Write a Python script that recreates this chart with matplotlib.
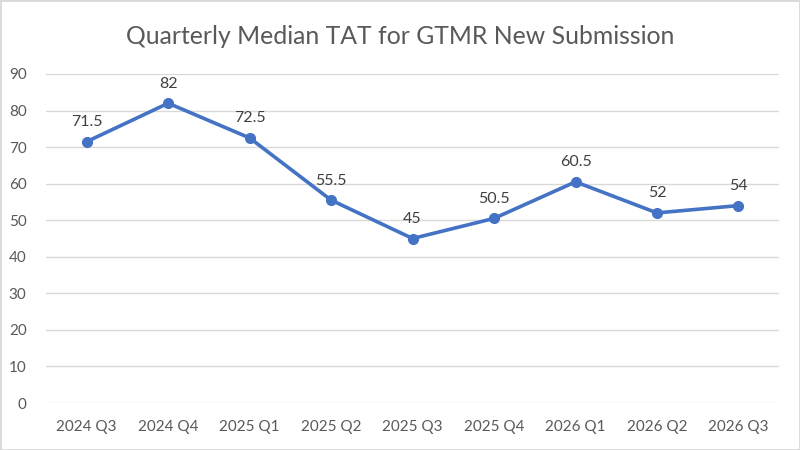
import matplotlib.pyplot as plt
from matplotlib.patches import Rectangle

quarters = ["2024 Q3", "2024 Q4", "2025 Q1", "2025 Q2", "2025 Q3",
            "2025 Q4", "2026 Q1", "2026 Q2", "2026 Q3"]
median_tat = [71.5, 82, 72.5, 55.5, 45, 50.5, 60.5, 52, 54]
labels = ["71.5", "82", "72.5", "55.5", "45", "50.5", "60.5", "52", "54"]
y_ticks = [0, 10, 20, 30, 40, 50, 60, 70, 80, 90]

blue = "#4472C4"
text_grey = "#595959"
grid_grey = "#D9D9D9"

plt.rcParams['font.family'] = ['Lato', 'DejaVu Sans']

fig = plt.figure(figsize=(8, 4.5), dpi=100)
ax = fig.add_axes([0.0575, 0.1044, 0.9165, 0.7312])

x = list(range(len(quarters)))
ax.plot(x, median_tat, color=blue, lw=2.6, marker='o', markersize=7,
        solid_capstyle='round', zorder=3)

for xi, yi, lab in zip(x, median_tat, labels):
    ax.annotate(lab, (xi, yi), xytext=(0, 9), textcoords='offset points',
                ha='center', va='bottom', fontsize=11.5, color='#404040')

ax.set_xlim(-0.5, len(quarters) - 0.5)
ax.set_ylim(0, 90)
ax.set_yticks(y_ticks)
ax.set_xticks(x)
ax.set_xticklabels(quarters)
ax.tick_params(axis='both', length=0, labelsize=11, colors=text_grey)
ax.tick_params(axis='x', pad=12)
ax.tick_params(axis='y', pad=14)
ax.grid(axis='y', color=grid_grey, lw=1)
ax.set_axisbelow(True)
for s in ax.spines.values():
    s.set_visible(False)

fig.text(0.5, 0.92, "Quarterly Median TAT for GTMR New Submission",
         ha='center', va='center', fontsize=17.8, color=text_grey)

fig.patches.append(Rectangle((0, 0), 1, 1, transform=fig.transFigure,
                             fill=False, edgecolor='#D9D9D9', lw=2))

fig.savefig("out.png", dpi=100)
